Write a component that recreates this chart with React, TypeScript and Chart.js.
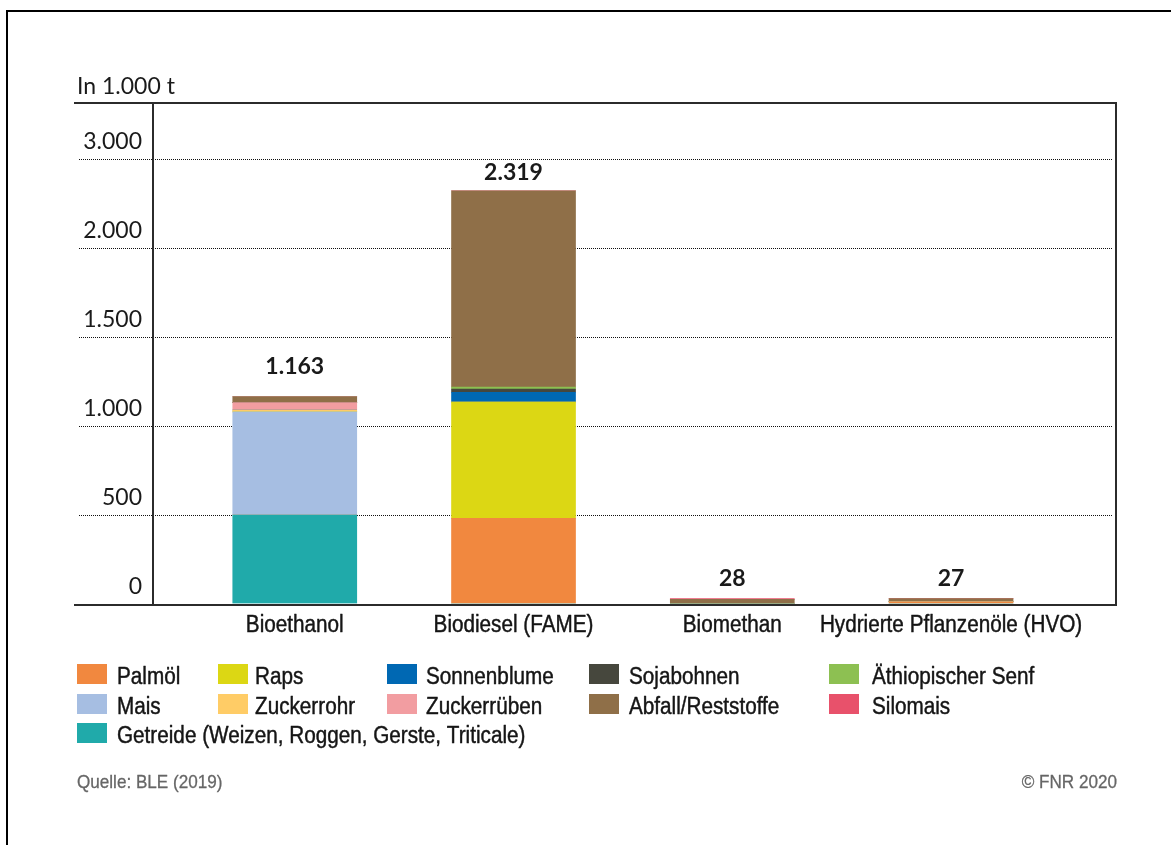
import React, { useEffect, useRef } from "react";
import { Chart, registerables } from "chart.js";

Chart.register(...registerables);

// ---------- data ----------
const categories = ["Bioethanol", "Biodiesel (FAME)", "Biomethan", "Hydrierte Pflanzenöle (HVO)"];
const totals = [1163, 2319, 28, 27];
const yTickValues = [0, 500, 1000, 1500, 2000, 2500];
const yTickLabels = ["0", "500", "1.000", "1.500", "2.000", "3.000"];

// stacked values per category (bottom to top)
const getreide = [497, 0, 0, 0];
const palmoel = [0, 478, 0, 10];
const mais = [580, 0, 0, 0];
const raps = [0, 653, 0, 0];
const zuckerrohr = [10, 0, 0, 0];
const sonnenblume = [0, 55, 0, 0];
const zuckerrueben = [42, 0, 0, 0];
const sojabohnen = [0, 19, 0, 0];
const senf = [0, 11, 0, 0];
const abfall = [34, 1103, 23, 17];
const silomais = [0, 0, 5, 0];

const seriesNames = [
  "Getreide (Weizen, Roggen, Gerste, Triticale)",
  "Palmöl",
  "Mais",
  "Raps",
  "Zuckerrohr",
  "Sonnenblume",
  "Zuckerrüben",
  "Sojabohnen",
  "Äthiopischer Senf",
  "Abfall/Reststoffe",
  "Silomais",
];
const seriesValues = [getreide, palmoel, mais, raps, zuckerrohr, sonnenblume, zuckerrueben, sojabohnen, senf, abfall, silomais];
const seriesColors = [
  "#20AAAA",
  "#F1883F",
  "#A6BEE2",
  "#DCD714",
  "#FFCC66",
  "#0068B3",
  "#F29DA1",
  "#46473D",
  "#8DC052",
  "#8F6F48",
  "#E8516B",
];

const legendRows = [
  ["Palmöl", "Raps", "Sonnenblume", "Sojabohnen", "Äthiopischer Senf"],
  ["Mais", "Zuckerrohr", "Zuckerrüben", "Abfall/Reststoffe", "Silomais"],
  ["Getreide (Weizen, Roggen, Gerste, Triticale)"],
];

const unitLabel = "In 1.000 t";
const sourceLabel = "Quelle: BLE (2019)";
const creditLabel = "© FNR 2020";

// ---------- layout / style constants ----------
const W = 1171;
const H = 845;
const PLOT_LEFT_EXT = 74;
const GRID_X0 = 79;
const GRID_X1 = 1112;
const X_MIN = -0.648;
const X_MAX = 3.754;
const LABEL_GAP = [23, 11, 12.5, 12.5];
const LEG_SWATCH_X = [77, 218, 387, 589, 829];
const LEG_TEXT_X = [117, 255, 426, 629, 872];
const LEG_BASELINE = [684, 714, 743];
const CONDENSED = "Liberation Sans";
const SQUEEZE = 0.9;

function fmt(n: number): string {
  return String(n).replace(/\B(?=(\d{3})+(?!\d))/g, ".");
}

function squeezedText(
  ctx: CanvasRenderingContext2D,
  text: string,
  x: number,
  y: number,
  align: CanvasTextAlign,
  embolden = 0.45
) {
  ctx.save();
  ctx.translate(x, y);
  ctx.scale(SQUEEZE, 1);
  ctx.textAlign = align;
  ctx.textBaseline = "alphabetic";
  ctx.fillText(text, 0, 0);
  if (embolden > 0) {
    ctx.strokeStyle = ctx.fillStyle as string;
    ctx.lineWidth = embolden;
    ctx.lineJoin = "round";
    ctx.strokeText(text, 0, 0);
  }
  ctx.restore();
}

const decorPlugin = {
  id: "decor",
  beforeDatasetsDraw(chart: any) {
    const { ctx, scales } = chart;
    const y = scales.y;
    ctx.save();
    ctx.strokeStyle = "#111";
    ctx.lineWidth = 1;
    ctx.setLineDash([1, 1]);
    yTickValues.forEach((v) => {
      if (v === 0) return;
      const py = Math.round(y.getPixelForValue(v)) + 0.5;
      ctx.beginPath();
      ctx.moveTo(GRID_X0, py);
      ctx.lineTo(GRID_X1, py);
      ctx.stroke();
    });
    ctx.restore();
  },
  afterDraw(chart: any) {
    const { ctx, chartArea, scales } = chart;
    const x = scales.x;
    const y = scales.y;
    ctx.save();

    // outer frame
    ctx.fillStyle = "#000";
    ctx.fillRect(6, 10, 2, H - 10);
    ctx.fillRect(6, 10, W - 6, 2);

    // plot frame
    const top = Math.round(chartArea.top);
    const bottom = Math.round(chartArea.bottom);
    const left = Math.round(chartArea.left);
    const right = Math.round(chartArea.right);
    ctx.fillStyle = "#2b2b2b";
    ctx.fillRect(PLOT_LEFT_EXT, top - 1, right - PLOT_LEFT_EXT + 1, 2);
    ctx.fillRect(PLOT_LEFT_EXT, bottom, right - PLOT_LEFT_EXT + 1, 2);
    ctx.fillRect(left - 1, top, 2, bottom - top);
    ctx.fillRect(right - 1, top, 2, bottom - top + 1);

    // unit label
    ctx.fillStyle = "#1a1a1a";
    ctx.font = "23px Lato";
    ctx.textAlign = "left";
    ctx.textBaseline = "alphabetic";
    ctx.fillText(unitLabel, 77, 94);

    // totals
    ctx.font = "bold 23px Lato";
    ctx.textAlign = "center";
    totals.forEach((t, i) => {
      const px = x.getPixelForValue(i);
      const py = y.getPixelForValue(t) - LABEL_GAP[i];
      ctx.fillText(fmt(t), px, py);
    });

    // category labels
    ctx.fillStyle = "#151515";
    ctx.font = `23px "${CONDENSED}"`;
    categories.forEach((c, i) => {
      squeezedText(ctx, c, x.getPixelForValue(i), bottom + 28, "center");
    });

    // legend
    legendRows.forEach((row, r) => {
      row.forEach((name, c) => {
        const idx = seriesNames.indexOf(name);
        ctx.fillStyle = seriesColors[idx];
        ctx.fillRect(LEG_SWATCH_X[c], LEG_BASELINE[r] - 20, 30, 20);
        ctx.fillStyle = "#151515";
        ctx.font = `23px "${CONDENSED}"`;
        squeezedText(ctx, name, LEG_TEXT_X[c], LEG_BASELINE[r], "left");
      });
    });

    // source & credit
    ctx.fillStyle = "#666";
    ctx.font = `19px "${CONDENSED}"`;
    squeezedText(ctx, sourceLabel, 77, 788, "left", 0.3);
    squeezedText(ctx, creditLabel, 1117, 788, "right", 0.3);

    ctx.restore();
  },
};

export default function App() {
  const ref = useRef<HTMLCanvasElement | null>(null);

  useEffect(() => {
    if (!ref.current) return;
    const datasets = seriesNames.map((name, s) => ({
      label: name,
      data: seriesValues[s].map((v, i) => ({ x: i, y: v })),
      backgroundColor: seriesColors[s],
      borderWidth: 0,
      barThickness: 124,
    }));
    const chart = new Chart(ref.current, {
      type: "bar",
      data: { datasets },
      options: {
        animation: false,
        responsive: false,
        devicePixelRatio: 1,
        layout: { padding: { top: 103, right: 55, bottom: 241.5, left: 0 } },
        plugins: { legend: { display: false }, tooltip: { enabled: false } },
        scales: {
          x: {
            type: "linear",
            display: false,
            stacked: true,
            offset: false,
            bounds: "data",
            min: X_MIN,
            max: X_MAX,
            grid: { offset: false },
            afterDataLimits: (s: any) => {
              s.min = X_MIN;
              s.max = X_MAX;
            },
            afterBuildTicks: (s: any) => {
              s.ticks = categories.map((_, i) => ({ value: i }));
            },
          },
          y: {
            stacked: true,
            min: 0,
            max: 2812,
            grid: { display: false, drawTicks: false },
            border: { display: false },
            afterBuildTicks: (s: any) => {
              s.ticks = yTickValues.map((v) => ({ value: v }));
            },
            afterFit: (s: any) => {
              s.width = 153;
            },
            ticks: {
              font: { family: "Lato", size: 23 },
              color: "#1a1a1a",
              padding: 11,
              labelOffset: -17,
              callback: (v: any) => yTickLabels[yTickValues.indexOf(Number(v))],
            },
          },
        },
      },
      plugins: [decorPlugin],
    } as any);
    return () => chart.destroy();
  }, []);

  return (
    <div style={{ position: "fixed", left: 0, top: 0, width: W, height: H, background: "#fff" }}>
      <canvas ref={ref} width={W} height={H} style={{ display: "block", width: W, height: H }} />
    </div>
  );
}
